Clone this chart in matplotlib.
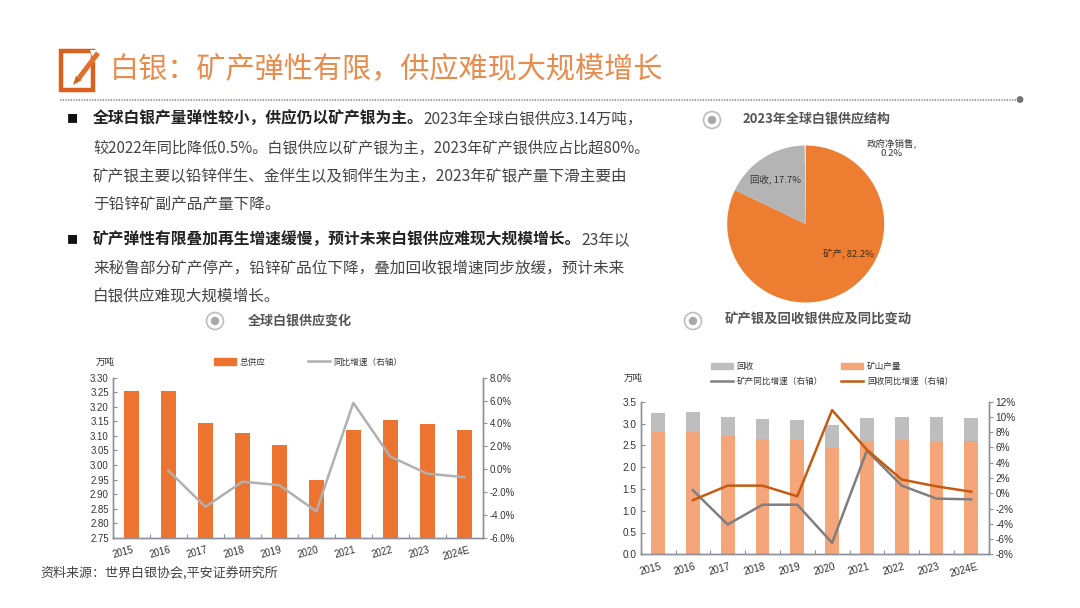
import matplotlib
matplotlib.use('Agg')
import matplotlib.pyplot as plt
from matplotlib.lines import Line2D
from matplotlib.patches import Circle, Patch, Polygon, Rectangle
from matplotlib.ticker import FuncFormatter, MultipleLocator
from matplotlib.transforms import ScaledTranslation

plt.rcParams['font.family'] = ['Noto Sans CJK SC', 'DejaVu Sans']
NUM_FONT = ['Liberation Sans', 'Noto Sans CJK SC']

W, H = 1080, 608
ORANGE = '#ED7D31'
AXIS = '#8C919B'
TEXT = '#333333'

# full width punctuation, written as escapes
COMMA = '\uff0c'
COLON = '\uff1a'
RIGHT_AXIS = '\uff08右轴\uff09'

years = ['2015', '2016', '2017', '2018', '2019', '2020', '2021', '2022', '2023', '2024E']

# left chart
total_supply = [3.256, 3.254, 3.146, 3.110, 3.069, 2.949, 3.121, 3.156, 3.142, 3.121]
total_yoy = [None, -0.14, -3.3, -1.1, -1.4, -3.7, 5.8, 1.1, -0.4, -0.7]

# right chart
mine_output = [2.81, 2.81, 2.72, 2.64, 2.62, 2.43, 2.60, 2.62, 2.60, 2.60]
recycled = [0.44, 0.45, 0.43, 0.46, 0.46, 0.53, 0.52, 0.53, 0.54, 0.52]
mine_yoy = [None, 0.4, -4.1, -1.5, -1.5, -6.5, 5.6, 1.0, -0.7, -0.8]
recycled_yoy = [None, -0.9, 1.0, 1.0, -0.4, 10.9, 5.7, 1.8, 0.9, 0.2]

# pie
pie_values = [82.2, 17.7, 0.2]
pie_colors = [ORANGE, '#B4B4B4', '#E6E0DA']

title = '白银' + COLON + '矿产弹性有限' + COMMA + '供应难现大规模增长'
# y, bold part, regular part, size of the regular part
body_lines = [
    (119, '全球白银产量弹性较小' + COMMA + '供应仍以矿产银为主。', '2023年全球白银供应3.14万吨' + COMMA, 11.2),
    (148, '', '较2022年同比降低0.5%。白银供应以矿产银为主' + COMMA + '2023年矿产银供应占比超80%。', 10.9),
    (176, '', '矿产银主要以铅锌伴生、金伴生以及铜伴生为主' + COMMA + '2023年矿银产量下滑主要由', 11.25),
    (204, '', '于铅锌矿副产品产量下降。', 11.25),
    (240, '矿产弹性有限叠加再生增速缓慢' + COMMA + '预计未来白银供应难现大规模增长。', '23年以', 11.25),
    (268, '', '来秘鲁部分矿产停产' + COMMA + '铅锌矿品位下降' + COMMA + '叠加回收银增速同步放缓' + COMMA + '预计未来', 11.25),
    (297, '', '白银供应难现大规模增长。', 11.25),
]


def px_axes(left, top, right, bottom):
    return fig.add_axes([left / W, 1 - bottom / H, (right - left) / W, (bottom - top) / H])


def style_chart(ax, axr, label_size):
    ax.set_facecolor('none')
    axr.set_facecolor('none')
    for a in (ax, axr):
        a.spines['top'].set_visible(False)
        for side in ('left', 'right', 'bottom'):
            a.spines[side].set_color(AXIS)
            a.spines[side].set_linewidth(1.0)
    ax.set_xlim(-0.5, 9.5)
    ax.set_xticks(range(10))
    ax.set_xticklabels(years, rotation=15, family=NUM_FONT, fontsize=label_size, color=TEXT)
    ax.set_xticks([i - 0.5 for i in range(11)], minor=True)
    ax.tick_params(axis='x', which='major', length=0, pad=5)
    ax.tick_params(axis='x', which='minor', length=3, direction='in', color=AXIS, width=0.8)
    shift = ScaledTranslation(-8 / 100, 0, fig.dpi_scale_trans)
    for lab in ax.get_xticklabels():
        lab.set_transform(lab.get_transform() + shift)
    ax.tick_params(axis='y', direction='in', length=3, color=AXIS, width=0.8, pad=3)
    axr.tick_params(axis='y', direction='out', length=3, color=AXIS, width=0.8, pad=2)
    for lab in ax.get_yticklabels() + axr.get_yticklabels():
        lab.set_family(NUM_FONT)
        lab.set_fontsize(label_size)
        lab.set_color(TEXT)


def section_icon(x, y):
    ax0.add_patch(Circle((x, y), 8.5, fc='white', ec='#BDBDBD', lw=1.2))
    ax0.add_patch(Circle((x, y), 4.2, fc='#A8A8A8', ec='none'))


fig = plt.figure(figsize=(W / 100, H / 100), dpi=100)
ax0 = fig.add_axes([0, 0, 1, 1])
ax0.set_xlim(0, W)
ax0.set_ylim(H, 0)
ax0.axis('off')

# header
ax0.add_patch(Rectangle((60.5, 51), 32, 39, fc='none', ec='#D9601F', lw=3.2))
ax0.add_patch(Polygon([(90, 50), (101, 50), (101, 62), (94, 62)], fc='white', ec='none'))
ax0.plot([98, 79], [53, 78], color='#E0702C', lw=3.6, solid_capstyle='butt')
ax0.add_patch(Polygon([(76, 76), (82, 80), (73, 85)], fc='#C9641F', ec='none'))
ax0.text(110, 70, title, fontsize=21, color='#E88C4E', va='center', ha='left')
ax0.plot([60, 1020], [99.5, 99.5], color='#8A8A8A', lw=1.2, ls=(0, (0.8, 0.8)))
ax0.add_patch(Circle((1020, 99.5), 3.4, fc='#6F7378', ec='none'))

# body text
fig.canvas.draw()
renderer = fig.canvas.get_renderer()
for y, bold, regular, size in body_lines:
    x = 93
    if bold:
        ax0.text(72, y, '■', fontsize=8, color='#111111', ha='center', va='center')
        t = ax0.text(x, y, bold, fontsize=11.35, fontweight='bold', color='#222222', va='center')
        x = t.get_window_extent(renderer).x1
    ax0.text(x, y, regular, fontsize=size, color='#444444', va='center')

# section titles
section_icon(712, 120)
section_icon(215, 321)
section_icon(693, 321)
ax0.text(743, 118, '2023年全球白银供应结构', fontsize=9.4, fontweight='bold', color='#555555', va='center')
ax0.text(248, 320, '全球白银供应变化', fontsize=9.4, fontweight='bold', color='#555555', va='center')
ax0.text(725, 320, '矿产银及回收银供应及同比变动', fontsize=9.6, fontweight='bold', color='#555555', va='center')
ax0.text(40, 573, '资料来源' + COLON + '世界白银协会,平安证券研究所', fontsize=9.4, color='#444444', va='center')
ax0.text(105, 362, '万吨', fontsize=6.8, color=TEXT, ha='center', va='center')
ax0.text(633, 378, '万吨', fontsize=6.8, color=TEXT, ha='center', va='center')

# pie
ax_pie = px_axes(727.2, 145.5, 884.2, 302.5)
ax_pie.pie(pie_values, colors=pie_colors, startangle=90, counterclock=False, radius=1)
ax_pie.set_xlim(-1, 1)
ax_pie.set_ylim(-1, 1)
ax_pie.text(-0.39, 0.573, '回收, 17.7%', fontsize=6.8, color=TEXT, ha='center', va='center')
ax_pie.text(0.54, -0.38, '矿产, 82.2%', fontsize=6.8, color='#4A2A14', ha='center', va='center')
ax_pie.text(1.10, 0.97, '政府净销售,\n0.2%', fontsize=6.8, color=TEXT, ha='center', va='center',
            clip_on=False, linespacing=1.1)

# left chart
ax1 = px_axes(113, 377.7, 482.7, 537.7)
x = list(range(10))
ax1.bar(x, total_supply, width=0.41, color='#EC7430')
ax1.set_ylim(2.75, 3.30)
ax1.yaxis.set_major_locator(MultipleLocator(0.05))
ax1.yaxis.set_major_formatter(FuncFormatter(lambda v, p: f'{v:.2f}'))
ax1r = ax1.twinx()
ax1r.plot(x, total_yoy, color='#B0B0B0', lw=1.8)
ax1r.set_ylim(-6, 8)
ax1r.yaxis.set_major_locator(MultipleLocator(2))
ax1r.yaxis.set_major_formatter(FuncFormatter(lambda v, p: f'{v:.1f}%'))
style_chart(ax1, ax1r, 6.9)
fig.legend(handles=[Patch(color='#EC7430', label='总供应'),
                    Line2D([0], [0], color='#B0B0B0', lw=1.8, label='同比增速' + RIGHT_AXIS)],
           ncol=2, loc='center', bbox_to_anchor=(308 / W, 1 - 362 / H), frameon=False,
           fontsize=6.2, handlelength=2.6, handleheight=0.7, columnspacing=4.9, handletextpad=0.4,
           labelcolor=TEXT)

# right chart
ax2 = px_axes(640.7, 401.7, 988.7, 554.3)
ax2.bar(x, mine_output, width=0.40, color='#F4A67A')
ax2.bar(x, recycled, width=0.40, bottom=mine_output, color='#BEBEBE')
ax2.set_ylim(0, 3.5)
ax2.yaxis.set_major_locator(MultipleLocator(0.5))
ax2.yaxis.set_major_formatter(FuncFormatter(lambda v, p: f'{v:.1f}'))
ax2r = ax2.twinx()
ax2r.plot(x, mine_yoy, color='#7F7F7F', lw=1.8)
ax2r.plot(x, recycled_yoy, color='#C55A11', lw=1.8)
ax2r.set_ylim(-8, 12)
ax2r.yaxis.set_major_locator(MultipleLocator(2))
ax2r.yaxis.set_major_formatter(FuncFormatter(lambda v, p: f'{v:.0f}%'))
style_chart(ax2, ax2r, 7.2)
fig.legend(handles=[Patch(color='#BEBEBE', label='回收'),
                    Line2D([0], [0], color='#7F7F7F', lw=1.8, label='矿产同比增速' + RIGHT_AXIS),
                    Patch(color='#F4A67A', label='矿山产量'),
                    Line2D([0], [0], color='#C55A11', lw=1.8, label='回收同比增速' + RIGHT_AXIS)],
           ncol=2, loc='center', bbox_to_anchor=(832 / W, 1 - 374 / H), frameon=False,
           fontsize=6.2, handlelength=2.6, handleheight=0.7, columnspacing=2.1, handletextpad=0.4,
           labelspacing=0.75, labelcolor=TEXT)

plt.savefig('out.png', dpi=100)
